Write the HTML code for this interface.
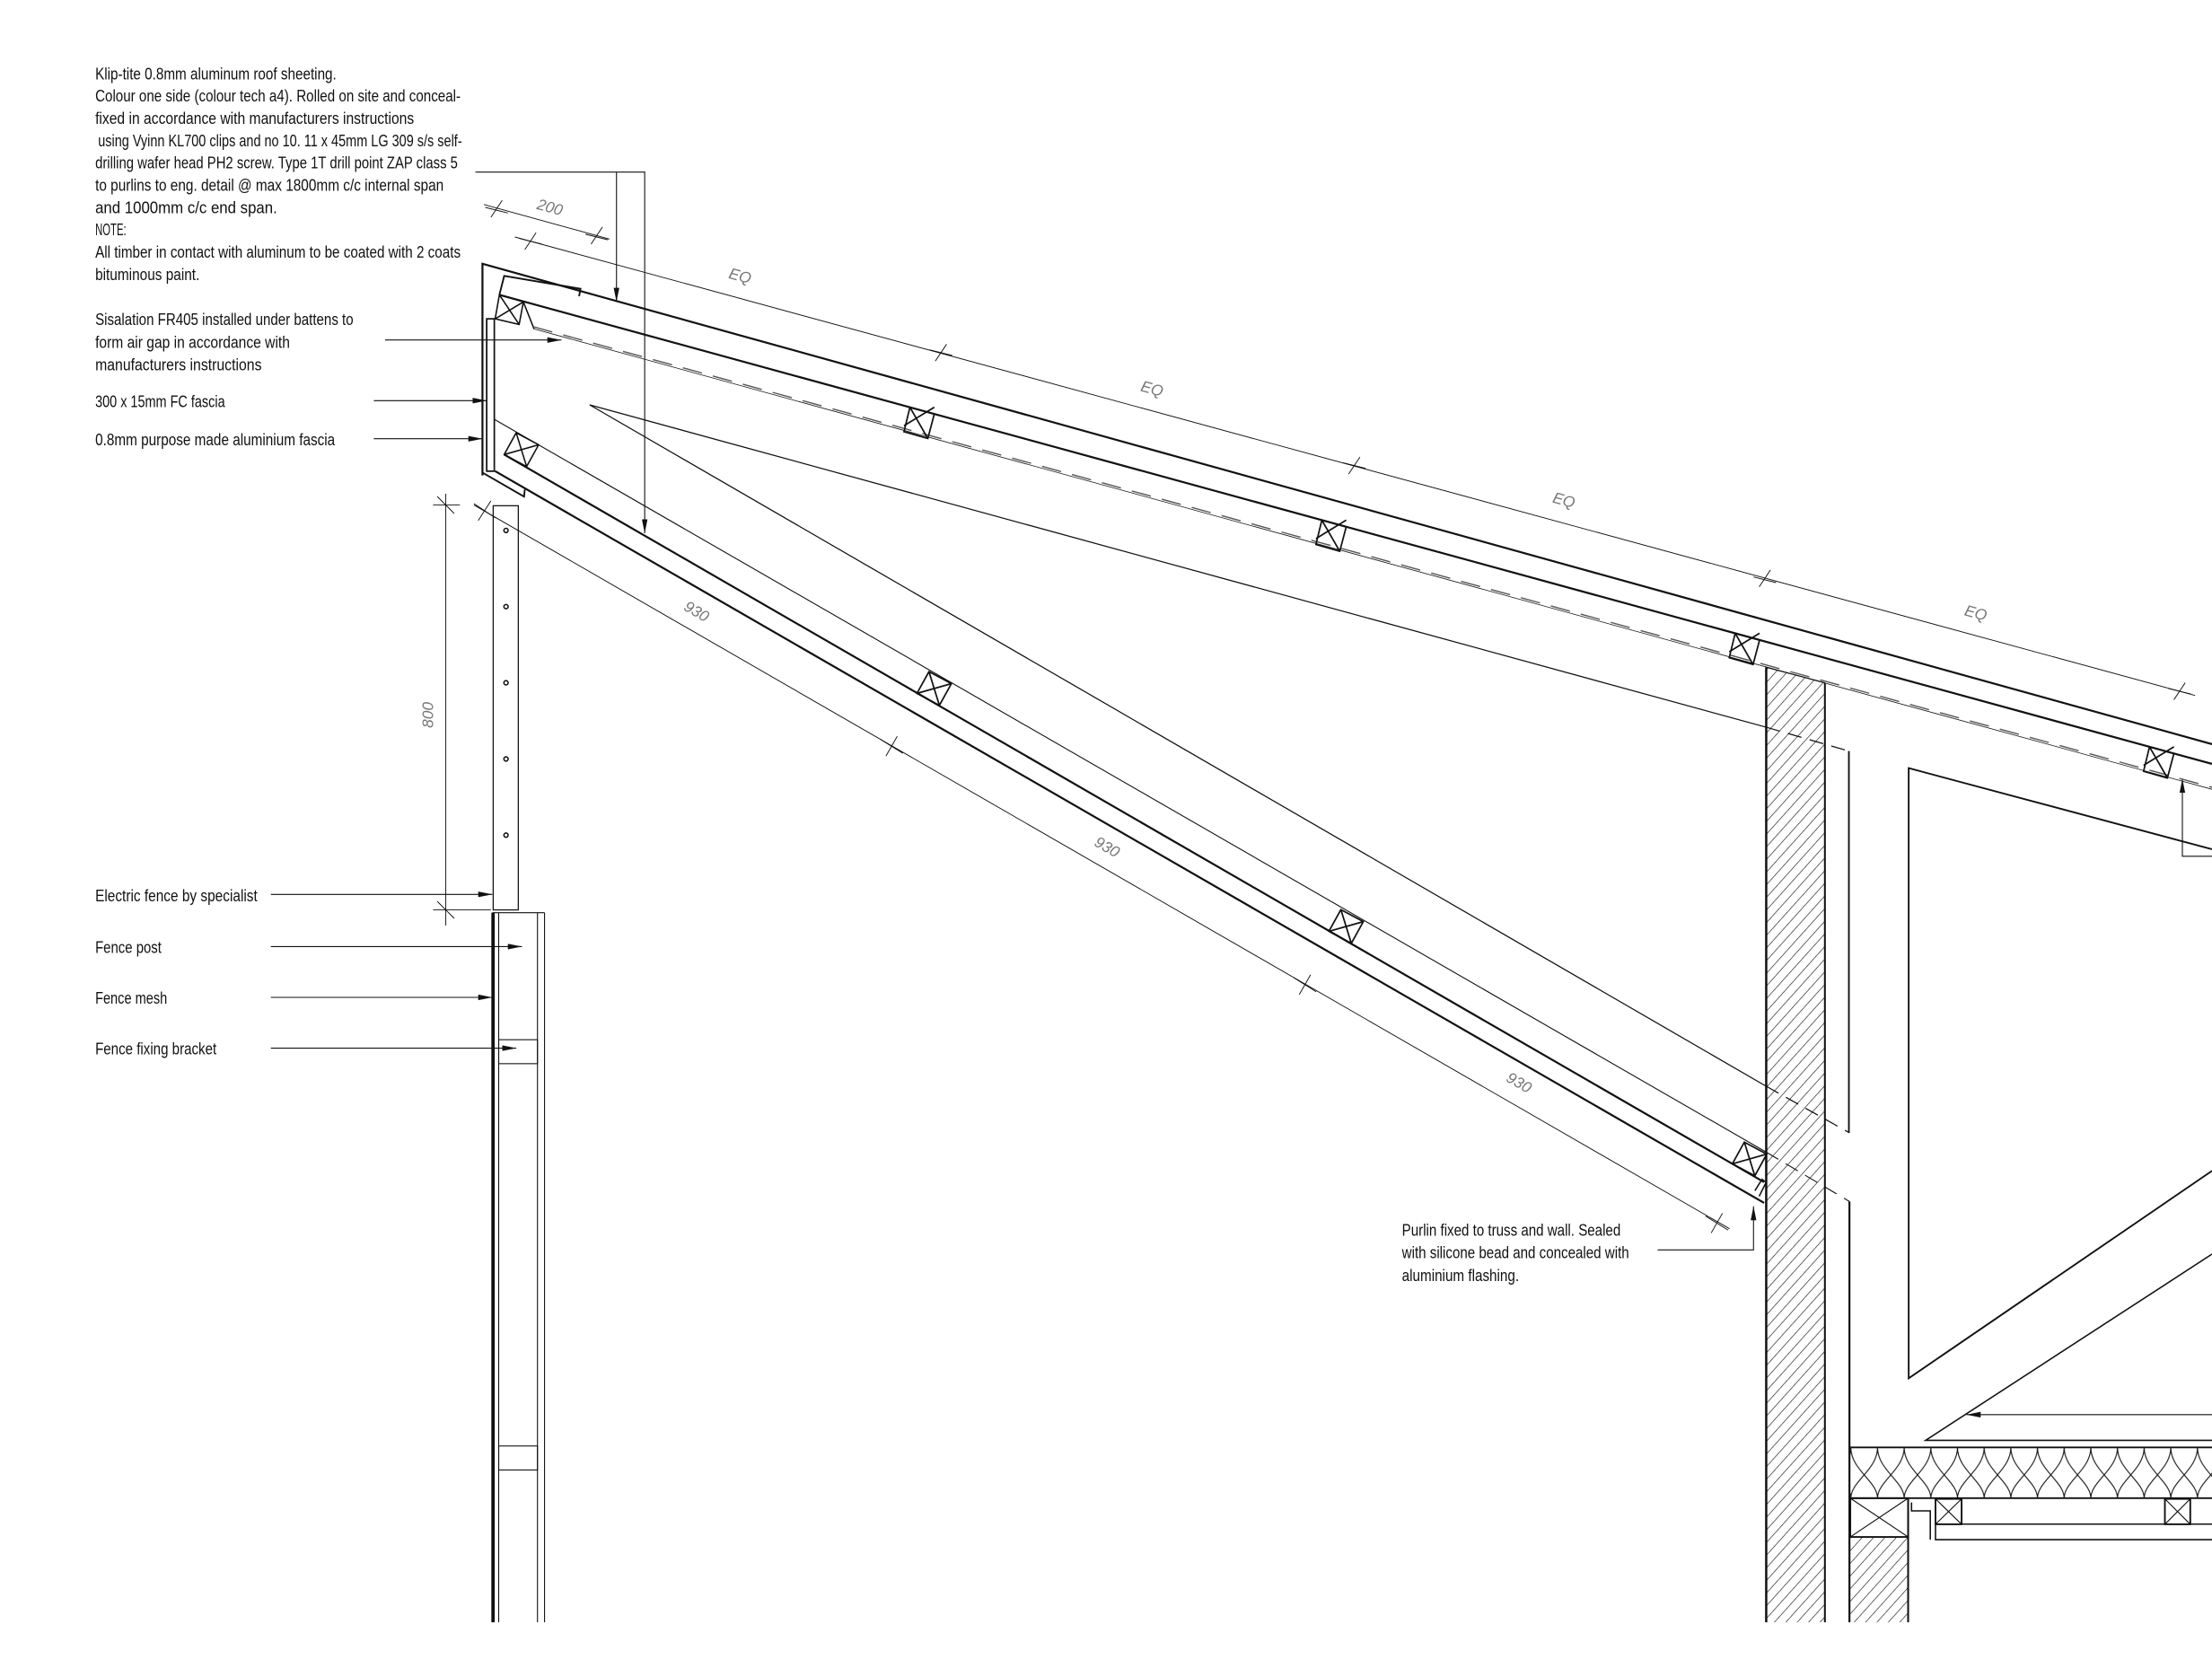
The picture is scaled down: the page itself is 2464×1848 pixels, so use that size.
<!DOCTYPE html>
<html><head><meta charset="utf-8"><style>
html,body{margin:0;padding:0;background:#fff;}
svg{display:block;}
text{font-family:"Liberation Sans Narrow","Liberation Sans",sans-serif;font-size:12px;fill:#111;}
.dim{font-size:11px;fill:#777;font-style:italic;}
</style></head><body>
<svg xmlns="http://www.w3.org/2000/svg" width="2464" height="1848" viewBox="0 0 1568 1176">
<defs>
<pattern id="hatch" patternUnits="userSpaceOnUse" width="6" height="6" patternTransform="rotate(42)">
<line x1="0" y1="0" x2="0" y2="6" stroke="#111" stroke-width="0.8"/>
</pattern>
<pattern id="ins" patternUnits="userSpaceOnUse" x="1312" y="1026" width="18.9" height="36">
<path d="M0 36 C0 24,18.9 16,18.9 0 M18.9 36 C18.9 24,0 16,0 0" fill="none" stroke="#111" stroke-width="0.7"/>
</pattern>
<marker id="ar" viewBox="0 0 10 4" refX="10" refY="2" markerWidth="10" markerHeight="4" markerUnits="userSpaceOnUse" orient="auto">
<path d="M0 0 L10 2 L0 4z" fill="#111"/>
</marker>
</defs>
<rect width="1568" height="1176" fill="#fff"/>

<g>
<text x="67.5" y="56.2" textLength="171" lengthAdjust="spacingAndGlyphs">Klip-tite 0.8mm aluminum roof sheeting.</text>
<text x="67.5" y="72" textLength="259" lengthAdjust="spacingAndGlyphs">Colour one side (colour tech a4). Rolled on site and conceal-</text>
<text x="67.5" y="87.8" textLength="226" lengthAdjust="spacingAndGlyphs">fixed in accordance with manufacturers instructions</text>
<text x="69.5" y="103.6" textLength="258" lengthAdjust="spacingAndGlyphs">using Vyinn KL700 clips and no 10. 11 x 45mm LG 309 s/s self-</text>
<text x="67.5" y="119.4" textLength="257" lengthAdjust="spacingAndGlyphs">drilling wafer head PH2 screw. Type 1T drill point ZAP class 5</text>
<text x="67.5" y="135.2" textLength="247" lengthAdjust="spacingAndGlyphs">to purlins to eng. detail @ max 1800mm c/c internal span</text>
<text x="67.5" y="151" textLength="129" lengthAdjust="spacingAndGlyphs">and 1000mm c/c end span.</text>
<text x="67.5" y="166.8" textLength="22" lengthAdjust="spacingAndGlyphs">NOTE:</text>
<text x="67.5" y="182.6" textLength="259" lengthAdjust="spacingAndGlyphs">All timber in contact with aluminum to be coated with 2 coats</text>
<text x="67.5" y="198.4" textLength="74" lengthAdjust="spacingAndGlyphs">bituminous paint.</text>

<text x="67.5" y="230.5" textLength="183" lengthAdjust="spacingAndGlyphs">Sisalation FR405 installed under battens to</text>
<text x="67.5" y="246.5" textLength="138" lengthAdjust="spacingAndGlyphs">form air gap in accordance with</text>
<text x="67.5" y="262.5" textLength="118" lengthAdjust="spacingAndGlyphs">manufacturers instructions</text>
<text x="67.5" y="288.5" textLength="92" lengthAdjust="spacingAndGlyphs">300 x 15mm FC fascia</text>
<text x="67.5" y="315.5" textLength="170" lengthAdjust="spacingAndGlyphs">0.8mm purpose made aluminium fascia</text>
<text x="67.5" y="639" textLength="115" lengthAdjust="spacingAndGlyphs">Electric fence by specialist</text>
<text x="67.5" y="675.5" textLength="47" lengthAdjust="spacingAndGlyphs">Fence post</text>
<text x="67.5" y="711.5" textLength="51" lengthAdjust="spacingAndGlyphs">Fence mesh</text>
<text x="67.5" y="747.5" textLength="86" lengthAdjust="spacingAndGlyphs">Fence fixing bracket</text>

<text x="993.8" y="876" textLength="155" lengthAdjust="spacingAndGlyphs">Purlin fixed to truss and wall. Sealed</text>
<text x="993.8" y="892" textLength="161" lengthAdjust="spacingAndGlyphs">with silicone bead and concealed with</text>
<text x="993.8" y="908" textLength="83" lengthAdjust="spacingAndGlyphs">aluminium flashing.</text>
</g>

<g stroke="#111" stroke-width="0.7" fill="none">
<polyline points="337,122 457,122 457,378" marker-end="url(#ar)"/>
<line x1="437" y1="122" x2="437" y2="214" marker-end="url(#ar)"/>
<line x1="273" y1="241" x2="398" y2="241" marker-end="url(#ar)"/>
<line x1="265" y1="284" x2="345" y2="284" marker-end="url(#ar)"/>
<line x1="265" y1="311" x2="342" y2="311" marker-end="url(#ar)"/>
<line x1="192" y1="634" x2="349" y2="634" marker-end="url(#ar)"/>
<line x1="192" y1="671" x2="370" y2="671" marker-end="url(#ar)"/>
<line x1="192" y1="707" x2="349" y2="707" marker-end="url(#ar)"/>
<line x1="192" y1="743" x2="366" y2="743" marker-end="url(#ar)"/>
<polyline points="1175,886 1243,886 1243,855" marker-end="url(#ar)"/>
<polyline points="1568,607 1547,607 1547,552" marker-end="url(#ar)"/>
<line x1="1568" y1="1002.8" x2="1394" y2="1002.8" marker-end="url(#ar)"/>
</g>

<g stroke="#111" stroke-width="0.6" fill="none">
<line x1="343" y1="145" x2="432" y2="169.5"/>
<path d="M348 154 L356 142 M344 147 L360 151 M419 173 L427 161 M415 166 L431 170"/>
<line x1="365" y1="168" x2="1556" y2="493"/>
<path d="M372 177 L380 165 M368 169 L384 173 M663 256 L671 244 M659 248 L675 252 M956 336 L964 324 M952 328 L968 332 M1247 416 L1255 404 M1243 409 L1259 413 M1541 496 L1549 484 M1537 488 L1553 492"/>
<line x1="336" y1="358" x2="1226" y2="871"/>
<path d="M339 369 L348 355 M336 357 L351 367 M628 536 L636 522 M624 524 L640 534 M921 705 L929 691 M917 693 L933 703 M1213 874 L1221 860 M1209 862 L1225 872"/>
<line x1="316" y1="350" x2="316" y2="656"/>
<path d="M307 358 L326 358 M310 352 L322 364 M307 645 L348 645 M310 639 L322 651"/>
</g>
<g>
<text class="dim" transform="translate(380,148) rotate(15.3)">200</text>
<text class="dim" transform="translate(516,197) rotate(15.3)">EQ</text>
<text class="dim" transform="translate(808,277) rotate(15.3)">EQ</text>
<text class="dim" transform="translate(1100,356) rotate(15.3)">EQ</text>
<text class="dim" transform="translate(1392,436) rotate(15.3)">EQ</text>
<text class="dim" transform="translate(484,432) rotate(30.1)">930</text>
<text class="dim" transform="translate(775,599) rotate(30.1)">930</text>
<text class="dim" transform="translate(1067,766) rotate(30.1)">930</text>
<text class="dim" transform="translate(307,516) rotate(-90)">800</text>
</g>

<g stroke="#111" fill="none" stroke-linejoin="miter">
<polyline points="342,337 342,187 1568,527.5" stroke-width="1.4"/>
<polyline points="354,209 357.4,195.6 411.5,204.7 410.5,210" stroke-width="1.2"/>
<line x1="354" y1="209" x2="1568" y2="541.5" stroke-width="1.4"/>
<rect x="345" y="226" width="5.4" height="108" stroke-width="1.1"/>
<polyline points="342,335 371.5,352 372,347" stroke-width="1.2"/>
<path d="M354 209 L371 214 L368 230 L351 226 Z M354 209 L368 230 M371 214 L351 226 M371 214 L378.5 233" stroke-width="1"/>
<path d="M357.4 322.2 L365.9 306.8 L381.8 315.3 L373.3 330.7 Z M357.4 322.2 L381.8 315.3 M365.9 306.8 L373.3 330.7" stroke-width="1"/>
<line x1="378" y1="233" x2="1568" y2="559.5" stroke-width="0.5"/>
<line x1="378" y1="231.6" x2="1568" y2="558.1" stroke-width="0.9" stroke-dasharray="14 8" stroke="#555"/>
<g stroke-width="1.1">
<path d="M645 288.7 l17.3 4.7 l-4.6 17.4 l-16.9 -4.8 z m0 0 l12.7 22.1 m4.6 -22.1 l-21.5 13.1"/>
<path d="M937 368.7 l17.3 4.7 l-4.6 17.4 l-16.9 -4.8 z m0 0 l12.7 22.1 m4.6 -22.1 l-21.5 13.1"/>
<path d="M1230 448.9 l17.3 4.7 l-4.6 17.4 l-16.9 -4.8 z m0 0 l12.7 22.1 m4.6 -22.1 l-21.5 13.1"/>
<path d="M1523.7 529.4 l17.3 4.7 l-4.6 17.4 l-16.9 -4.8 z m0 0 l12.7 22.1 m4.6 -22.1 l-21.5 13.1"/>
</g>
<line x1="357.4" y1="322.2" x2="1250.5" y2="838" stroke-width="1.4"/>
<line x1="351" y1="334" x2="1250.5" y2="852.7" stroke-width="1.4"/>
<line x1="350" y1="297" x2="1252" y2="816.7" stroke-width="0.7"/>
<line x1="1252" y1="816.7" x2="1311" y2="851.7" stroke-width="0.7" stroke-dasharray="10 6"/>
<g stroke-width="1.1">
<path d="M650 491.5 l8.5 -15.4 l15.9 8.5 l-8.5 15.4 z m0 0 l24.4 -6.9 m-15.9 -8.5 l7.4 23.9"/>
<path d="M942 660.2 l8.5 -15.4 l15.9 8.5 l-8.5 15.4 z m0 0 l24.4 -6.9 m-15.9 -8.5 l7.4 23.9"/>
<path d="M1228 825 l8.5 -15.4 l15.9 8.5 l-8.5 15.4 z m0 0 l24.4 -6.9 m-15.9 -8.5 l7.4 23.9"/>
</g>
<path d="M1244 844 L1249 836 L1252 838 L1247 848" stroke-width="1"/>
<polyline points="418,287 1252,515.5" stroke-width="0.8"/>
<line x1="1252" y1="515.5" x2="1310.6" y2="532.4" stroke-width="0.8" stroke-dasharray="10 6"/>
<line x1="418" y1="287" x2="1252" y2="770" stroke-width="0.8"/>
<line x1="1252" y1="770" x2="1311" y2="803" stroke-width="0.8" stroke-dasharray="10 6"/>
<line x1="1310.6" y1="532.4" x2="1310.6" y2="803" stroke-width="1.2"/>
<line x1="1311" y1="851.7" x2="1311" y2="1150" stroke-width="1.4"/>
</g>

<g stroke="#111" fill="none">
<rect x="349.6" y="358.5" width="17.8" height="286.5" stroke-width="0.8"/>
<g stroke-width="1"><circle cx="358.7" cy="376" r="1.5"/><circle cx="358.7" cy="430" r="1.5"/><circle cx="358.7" cy="484" r="1.5"/><circle cx="358.7" cy="538" r="1.5"/><circle cx="358.7" cy="592" r="1.5"/></g>
<line x1="349.5" y1="647" x2="349.5" y2="1150" stroke-width="2.4"/>
<line x1="353.5" y1="647" x2="353.5" y2="1150" stroke-width="0.7"/>
<line x1="381" y1="647" x2="381" y2="1150" stroke-width="0.7"/>
<line x1="386" y1="647" x2="386" y2="1150" stroke-width="0.7"/>
<line x1="349" y1="647" x2="386" y2="647" stroke-width="0.7"/>
<rect x="353.5" y="737" width="27.5" height="17" stroke-width="0.7"/>
<rect x="353.5" y="1025" width="27.5" height="17" stroke-width="0.7"/>
</g>

<path d="M1252 473 L1293.6 484 L1293.6 1150 L1252 1150 Z" fill="url(#hatch)" stroke="none"/>
<g stroke="#111" fill="none">
<line x1="1252" y1="473" x2="1252" y2="1150" stroke-width="1.6"/>
<line x1="1293.6" y1="484" x2="1293.6" y2="1150" stroke-width="1.3"/>
<line x1="1252" y1="473" x2="1293.6" y2="484" stroke-width="0.8"/>
</g>

<g stroke="#111" fill="none">
<polyline points="1568,602 1353,544.5 1353,977 1568,830" stroke-width="1.2"/>
<polyline points="1568,889 1365,1021 1568,1021" stroke-width="1"/>
</g>
<rect x="1311.6" y="1026" width="256.4" height="36" fill="url(#ins)"/>
<g stroke="#111" fill="none">
<line x1="1311.6" y1="1026" x2="1568" y2="1026" stroke-width="1.2"/>
<line x1="1311.6" y1="1062" x2="1568" y2="1062" stroke-width="1.2"/>
<rect x="1311.6" y="1062" width="41" height="27.5" stroke-width="1.2"/>
<path d="M1311.6 1062 L1352.6 1089.5 M1352.6 1062 L1311.6 1089.5" stroke-width="0.7"/>
</g>
<rect x="1311.6" y="1089.5" width="41" height="60.5" fill="url(#hatch)"/>
<g stroke="#111" fill="none">
<line x1="1352.6" y1="1062" x2="1352.6" y2="1150" stroke-width="1.3"/>
<polyline points="1355,1065 1355,1071 1368.3,1071 1368.3,1091.4" stroke-width="1"/>
<rect x="1372" y="1062.5" width="18.5" height="18" stroke-width="1.2"/>
<path d="M1372 1062.5 L1390.5 1080.5 M1390.5 1062.5 L1372 1080.5" stroke-width="0.7"/>
<rect x="1534.6" y="1062.5" width="18" height="18" stroke-width="1.2"/>
<path d="M1534.6 1062.5 L1552.6 1080.5 M1552.6 1062.5 L1534.6 1080.5" stroke-width="0.7"/>
<line x1="1372" y1="1080.4" x2="1568" y2="1080.4" stroke-width="1"/>
<polyline points="1372,1080.4 1372,1091.4 1568,1091.4" stroke-width="1"/>
</g>
</svg>
</body></html>
